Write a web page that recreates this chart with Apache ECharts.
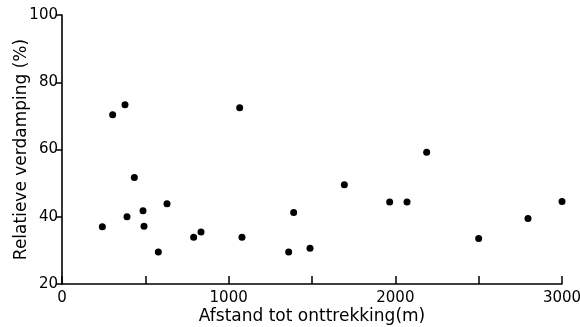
<!DOCTYPE html>
<html><head><meta charset="utf-8">
<script src="https://cdn.jsdelivr.net/npm/echarts@6/dist/echarts.min.js"></script>
<style>html,body{margin:0;padding:0;background:#fff}#c{width:580px;height:327px}</style>
</head><body><div id="c"></div>
<script>
const distance = [242, 304, 378, 390, 434, 486, 492, 578, 630, 790, 834, 1066, 1080, 1360, 1390, 1488, 1694, 1966, 2070, 2188, 2500, 2796, 3000];
const evaporation = [37.0, 70.3, 73.3, 40.0, 51.7, 41.8, 37.2, 29.5, 43.9, 33.9, 35.5, 72.4, 33.9, 29.5, 41.3, 30.6, 49.5, 44.4, 44.4, 59.2, 33.5, 39.5, 44.5];
const xLabels = [0, 1000, 2000, 3000];
const yTicks = [20, 40, 60, 80, 100];
const xTitle = 'Afstand tot onttrekking(m)';
const yTitle = 'Relatieve verdamping (%)';

const points = distance.map((d, i) => [d, evaporation[i]]);
const font = 'DejaVu Sans';
const chart = echarts.init(document.getElementById('c'), null, {renderer: 'canvas'});
chart.setOption({
  animation: false,
  backgroundColor: '#fff',
  grid: {left: 62, right: 18, top: 15, bottom: 43, containLabel: false, outerBoundsMode: 'none'},
  xAxis: {
    type: 'value', min: 0, max: 3000, interval: 500,
    name: xTitle, nameLocation: 'middle', nameGap: 24, nameMoveOverlap: false,
    nameTextStyle: {color: '#000', fontSize: 17, fontFamily: font},
    axisLine: {show: true, onZero: false, lineStyle: {color: '#000', width: 1.6}},
    axisTick: {show: true, inside: true, length: 8, lineStyle: {color: '#000', width: 1.5}},
    axisLabel: {color: '#000', fontSize: 15, fontFamily: font, margin: 7,
      formatter: v => xLabels.includes(v) ? String(v) : ''},
    splitLine: {show: false}
  },
  yAxis: {
    type: 'value', min: yTicks[0], max: yTicks[yTicks.length - 1], interval: 20,
    name: yTitle, nameLocation: 'middle', nameGap: 32, nameRotate: 90, nameMoveOverlap: false,
    nameTextStyle: {color: '#000', fontSize: 17, fontFamily: font},
    axisLine: {show: true, onZero: false, lineStyle: {color: '#000', width: 1.6}},
    axisTick: {show: true, inside: false, length: 6, lineStyle: {color: '#000', width: 1.5}},
    axisLabel: {color: '#000', fontSize: 15, fontFamily: font, margin: 4},
    splitLine: {show: false}
  },
  series: [{
    type: 'scatter', data: points, symbol: 'circle', symbolSize: 7,
    itemStyle: {color: '#000', opacity: 1}
  }]
});
</script></body></html>
